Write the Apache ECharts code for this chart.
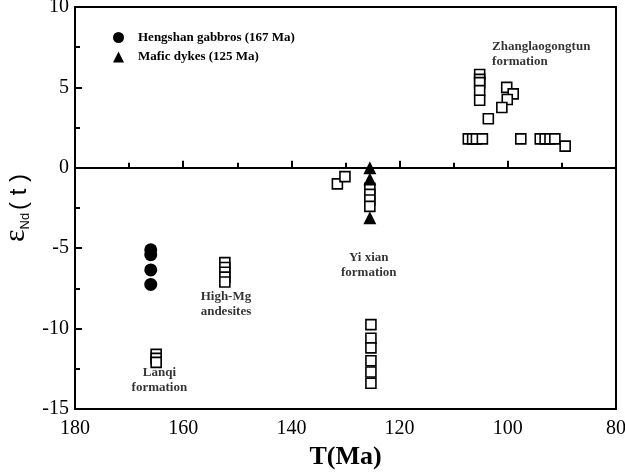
<!DOCTYPE html>
<html>
<head>
<meta charset="utf-8">
<script src="https://cdn.jsdelivr.net/npm/echarts@6/dist/echarts.min.js"></script>
<style>
  html, body { margin: 0; padding: 0; background: #fff; }
  #chart { width: 625px; height: 475px; }
</style>
</head>
<body>
<div id="chart"></div>
<script>
// age T (Ma) and eNd(t)
var gabbroT = [166, 166, 166, 166]
var gabbroE = [-5.1, -5.4, -6.35, -7.25]

var dykeT = [125.5, 125.5, 125.5]
var dykeE = [0, -0.7, -3.1]

// published data shown as open squares
var sqT = [
    152.3, 152.3, 152.3, 152.3, 152.3,
    165, 165, 165,
    125.3, 125.3, 125.3, 125.3, 125.3, 125.3,
    125.5, 125.5, 125.5, 125.5,
    131.5, 130.1,
    105.2, 105.2, 105.2, 105.2, 105.2,
    100.2, 99.0, 100.1, 101.1, 103.6,
    107.3, 106.5, 105.8, 104.7, 97.6,
    94.0, 93.1, 92.2, 91.3, 89.4
]
var sqE = [
    -5.9, -6.2, -6.5, -6.8, -7.1,
    -11.6, -11.85, -12.1,
    -9.75, -10.6, -11.2, -12.0, -12.7, -13.4,
    -1.27, -1.65, -2.0, -2.4,
    -1.0, -0.55,
    5.8, 5.5, 5.3, 4.8, 4.2,
    5.0, 4.6, 4.25, 3.75, 3.05,
    1.8, 1.8, 1.8, 1.8, 1.8,
    1.8, 1.8, 1.8, 1.8, 1.35
]

var noteText = ['Zhanglaogongtun\nformation', 'Yi xian\nformation', 'High-Mg\nandesites', 'Lanqi\nformation']
var noteT = [102.9, 125.7, 152.1, 164.4]
var noteE = [7.04, -6.04, -8.47, -13.23]
var noteAlign = ['left', 'center', 'center', 'center']

var xTicks = [80, 180, 20]
var yTicks = [-15, 10, 5]

function pairs(xs, ys) {
    return xs.map(function (x, i) { return [x, ys[i]] })
}

var serif = '"Liberation Serif", "DejaVu Serif", serif'

var chart = echarts.init(document.getElementById('chart'))

var option = {
    animation: false,
    backgroundColor: '#fff',
    grid: {
        left: 75, right: 9, top: 7, bottom: 66,
        outerBoundsMode: 'none',
        containLabel: false,
        show: true, borderColor: '#000', borderWidth: 2, backgroundColor: 'transparent'
    },
    legend: {
        orient: 'vertical',
        left: 108, top: 26,
        itemWidth: 11, itemHeight: 11, itemGap: 6.5,
        textStyle: { fontFamily: serif, fontWeight: 'bold', fontSize: 13, color: '#000', padding: [0, 0, 0, 9] },
        data: [
            { name: 'Hengshan gabbros (167 Ma)', icon: 'circle', itemStyle: { color: '#000', opacity: 1 } },
            { name: 'Mafic dykes (125 Ma)', icon: 'triangle', itemStyle: { color: '#000', opacity: 1 } }
        ]
    },
    xAxis: {
        type: 'value',
        inverse: true,
        min: xTicks[0], max: xTicks[1], interval: xTicks[2],
        name: 'T(Ma)',
        nameLocation: 'middle',
        nameGap: 33,
        nameTextStyle: { fontFamily: serif, fontWeight: 'bold', fontSize: 26, color: '#000' },
        axisLine: { lineStyle: { color: '#000', width: 2 } },
        axisTick: { inside: true, length: 7, lineStyle: { color: '#000', width: 2 } },
        minorTick: { show: true, splitNumber: 2, length: 5, lineStyle: { color: '#000', width: 2 } },
        axisLabel: { fontFamily: serif, fontSize: 20, color: '#000', margin: 10 },
        splitLine: { show: false }
    },
    yAxis: {
        type: 'value',
        min: yTicks[0], max: yTicks[1], interval: yTicks[2],
        name: '{e|ε}{s|Nd}{t|( t )}',
        nameLocation: 'middle',
        nameGap: 40,
        nameRotate: 90,
        nameTextStyle: {
            fontFamily: serif, color: '#000',
            rich: {
                e: { fontFamily: serif, fontSize: 30, color: '#000', verticalAlign: 'bottom' },
                s: { fontFamily: '"Liberation Sans", sans-serif', fontSize: 13, color: '#000', verticalAlign: 'bottom', padding: [0, 3, 0, 0] },
                t: { fontFamily: '"Liberation Sans", sans-serif', fontSize: 24, color: '#000', verticalAlign: 'bottom' }
            }
        },
        axisLine: { lineStyle: { color: '#000', width: 2 } },
        axisTick: { inside: true, length: 7, lineStyle: { color: '#000', width: 2 } },
        minorTick: { show: true, splitNumber: 2, length: 5, lineStyle: { color: '#000', width: 2 } },
        axisLabel: { fontFamily: serif, fontSize: 20, color: '#000', margin: 6 },
        splitLine: { show: false }
    },
    series: [
        {
            name: 'Published data',
            type: 'scatter',
            symbol: 'rect',
            symbolSize: 10,
            itemStyle: { color: '#fff', borderColor: '#000', borderWidth: 1.6, opacity: 1 },
            data: pairs(sqT, sqE),
            markLine: {
                silent: true,
                symbol: 'none',
                label: { show: false },
                lineStyle: { color: '#000', width: 1.6, type: 'solid' },
                data: [{ yAxis: 0 }]
            }
        },
        {
            name: 'Hengshan gabbros (167 Ma)',
            type: 'scatter',
            symbol: 'circle',
            symbolSize: 13,
            itemStyle: { color: '#000', opacity: 1 },
            data: pairs(gabbroT, gabbroE)
        },
        {
            name: 'Mafic dykes (125 Ma)',
            type: 'scatter',
            symbol: 'triangle',
            symbolSize: 13,
            itemStyle: { color: '#000', opacity: 1 },
            data: pairs(dykeT, dykeE)
        },
        {
            name: 'notes',
            type: 'scatter',
            symbolSize: 0,
            silent: true,
            data: noteText.map(function (txt, i) {
                return {
                    value: [noteT[i], noteE[i]],
                    label: {
                        show: true,
                        formatter: txt,
                        position: 'inside',
                        align: noteAlign[i],
                        verticalAlign: 'middle',
                        fontFamily: serif, fontWeight: 'bold', fontSize: 13,
                        lineHeight: 15, color: '#000'
                    }
                }
            })
        }
    ]
}

chart.setOption(option)
</script>
</body>
</html>
